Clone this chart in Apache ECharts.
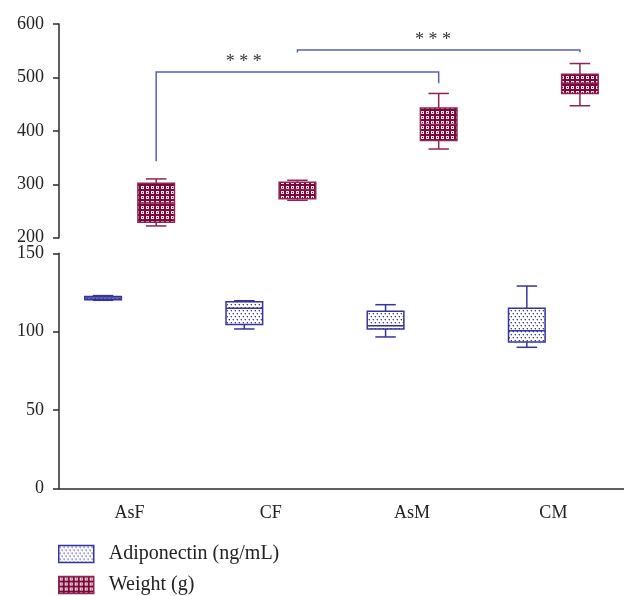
<!DOCTYPE html>
<html><head><meta charset="utf-8">
<script src="https://cdn.jsdelivr.net/npm/echarts@6/dist/echarts.min.js"></script>
<style>html,body{margin:0;padding:0;background:#fff}#c{width:624px;height:596px}</style>
</head><body><div id="c"></div>
<script>
// ---------- data ----------
const categories = ['AsF', 'CF', 'AsM', 'CM'];
const weightTicks = [200, 300, 400, 500, 600];
const adipTicks = [0, 50, 100, 150];
// box statistics per category: [min, Q1, median, Q3, max]
const weightMin = [222, 270, 366, 447];
const weightQ1 = [229, 273, 382, 470];
const weightMed = [265, 290, 412, 489];
const weightQ3 = [302, 304, 443, 506];
const weightMax = [310, 307.5, 470, 526];
const adipMin = [120, 101.7, 96.6, 90];
const adipQ1 = [120.3, 104.6, 101.7, 93.4];
const adipMed = [121.5, 115, 103.8, 100.6];
const adipQ3 = [122.5, 119.1, 113, 115];
const adipMax = [123, 119.7, 117.2, 129.1];
// significance brackets (weight)
const sigFrom = ['AsF', 'CF'];
const sigTo = ['AsM', 'CM'];
const sigFromY = [343, 546.6];
const sigTopY = [510, 551.5];
const sigToY = [489, 547];
const sigText = ['***', '***'];

// ---------- styling ----------
const FONT = '"Liberation Serif", "Times New Roman", serif';
const WCOL = '#7a0838', WLINE = '#8e2454';
const ACOL = '#34349c';
const BRACKET = '#5a5fb5';
const labelFrac = [0.31, 0.48];

function makePattern(kind) {
  const cv = document.createElement('canvas');
  const ctx = cv.getContext('2d');
  if (kind === 'weight') {
    cv.width = 5; cv.height = 5;
    ctx.fillStyle = WCOL; ctx.fillRect(0, 0, 5, 5);
    ctx.fillStyle = 'rgba(255,255,255,0.9)';
    ctx.fillRect(1, 1, 3, 1); ctx.fillRect(1, 3, 3, 1); ctx.fillRect(1, 2, 1, 1); ctx.fillRect(3, 2, 1, 1);
  } else {
    cv.width = 4; cv.height = 6;
    ctx.fillStyle = '#ffffff'; ctx.fillRect(0, 0, 4, 6);
    ctx.fillStyle = 'rgba(52,52,156,0.95)';
    ctx.fillRect(1, 1, 1, 1); ctx.fillRect(3, 4, 1, 1);
    ctx.fillStyle = 'rgba(52,52,156,0.35)';
    ctx.fillRect(0, 1, 1, 1); ctx.fillRect(2, 4, 1, 1);
    ctx.fillRect(1, 2, 1, 1); ctx.fillRect(3, 5, 1, 1);
  }
  return { image: cv, repeat: 'repeat' };
}
const wPat = makePattern('weight');
const aPat = makePattern('adip');

function boxRenderer(offFrac, lineColor, fill, lw) {
  return function (params, api) {
    const cat = api.value(0);
    const band = api.size([1, 0])[0];
    const base = api.coord([cat, api.value(1)]);
    const cx = base[0] + band * offFrac;
    const y = i => api.coord([cat, api.value(i)])[1];
    const yMin = y(1), yQ1 = y(2), yMed = y(3), yQ3 = y(4), yMax = y(5);
    const bw = band * 0.259, cw = band * 0.145;
    const ls = { stroke: lineColor, lineWidth: lw };
    return {
      type: 'group', children: [
        { type: 'line', shape: { x1: cx, y1: yMax, x2: cx, y2: yQ3 }, style: ls },
        { type: 'line', shape: { x1: cx, y1: yMin, x2: cx, y2: yQ1 }, style: ls },
        { type: 'line', shape: { x1: cx - cw / 2, y1: yMax, x2: cx + cw / 2, y2: yMax }, style: ls },
        { type: 'line', shape: { x1: cx - cw / 2, y1: yMin, x2: cx + cw / 2, y2: yMin }, style: ls },
        { type: 'rect', shape: { x: cx - bw / 2, y: yQ3, width: bw, height: Math.max(yQ1 - yQ3, 1) },
          style: { fill: fill, stroke: lineColor, lineWidth: lw } },
        { type: 'line', shape: { x1: cx - bw / 2, y1: yMed, x2: cx + bw / 2, y2: yMed }, style: ls }
      ]
    };
  };
}

const OFF = 0.188;
function bracketRenderer(params, api) {
  const band = api.size([1, 0])[0];
  const a = api.coord([api.value(0), api.value(2)]);
  const t = api.coord([api.value(0), api.value(3)]);
  const b = api.coord([api.value(1), api.value(4)]);
  const x1 = a[0] + band * OFF, x2 = b[0] + band * OFF;
  const ty = t[1];
  const lx = x1 + (x2 - x1) * labelFrac[params.dataIndex];
  return {
    type: 'group', children: [
      { type: 'polyline', shape: { points: [[x1, a[1]], [x1, ty], [x2, ty], [x2, b[1]]] },
        style: { stroke: BRACKET, lineWidth: 1.5, fill: null } },
      { type: 'text', x: lx, y: ty - 1,
        style: { text: sigText[params.dataIndex].split('').join(' '), font: '18px ' + FONT, fill: '#333',
                 align: 'center', verticalAlign: 'bottom' } }
    ]
  };
}

const weightData = categories.map((c, i) => [i, weightMin[i], weightQ1[i], weightMed[i], weightQ3[i], weightMax[i]]);
const adipData = categories.map((c, i) => [i, adipMin[i], adipQ1[i], adipMed[i], adipQ3[i], adipMax[i]]);
const sigData = sigFrom.map((f, i) => [categories.indexOf(f), categories.indexOf(sigTo[i]), sigFromY[i], sigTopY[i], sigToY[i]]);

const axisLineStyle = { color: '#2b2b2b', width: 1.5 };
const yLabel = { fontFamily: FONT, fontSize: 18, color: '#222', margin: 15 };

const chart = echarts.init(document.getElementById('c'), null, { renderer: 'canvas' });
chart.setOption({
  animation: false,
  backgroundColor: '#fff',
  grid: [
    { left: 59, top: 24, width: 567, height: 213.7 },
    { left: 59, top: 253.3, width: 567, height: 235 }
  ],
  xAxis: [
    { gridIndex: 0, type: 'category', data: categories, show: false },
    { gridIndex: 1, type: 'category', data: categories,
      axisLine: { lineStyle: axisLineStyle },
      axisTick: { alignWithLabel: true, length: 7, lineStyle: axisLineStyle },
      axisLabel: { fontFamily: FONT, fontSize: 18, color: '#222', margin: 16 } }
  ],
  yAxis: [
    { gridIndex: 0, type: 'value', min: weightTicks[0], max: weightTicks[weightTicks.length - 1], interval: 100,
      axisLine: { show: true, lineStyle: axisLineStyle },
      axisTick: { show: true, length: 6, lineStyle: axisLineStyle },
      splitLine: { show: false }, axisLabel: yLabel },
    { gridIndex: 1, type: 'value', min: adipTicks[0], max: adipTicks[adipTicks.length - 1], interval: 50,
      axisLine: { show: true, lineStyle: axisLineStyle },
      axisTick: { show: true, length: 6, lineStyle: axisLineStyle },
      splitLine: { show: false }, axisLabel: yLabel }
  ],
  legend: {
    orient: 'vertical', left: 58, top: 544, padding: 0,
    itemWidth: 35, itemHeight: 17, itemGap: 11, icon: 'rect',
    textStyle: { fontFamily: FONT, fontSize: 20, color: '#222', padding: [0, 0, 0, 10] },
    data: [
      { name: 'Adiponectin (ng/mL)', itemStyle: { color: aPat, borderColor: ACOL, borderWidth: 1.5 } },
      { name: 'Weight (g)', itemStyle: { color: wPat, borderColor: WLINE, borderWidth: 1.5 } }
    ]
  },
  series: [
    { name: 'Adiponectin (ng/mL)', type: 'custom', xAxisIndex: 1, yAxisIndex: 1,
      itemStyle: { color: aPat, borderColor: ACOL },
      encode: { x: 0, y: [1, 2, 3, 4, 5] },
      renderItem: boxRenderer(-OFF, ACOL, aPat, 1.5), data: adipData },
    { name: 'Weight (g)', type: 'custom', xAxisIndex: 0, yAxisIndex: 0,
      itemStyle: { color: wPat, borderColor: WLINE },
      encode: { x: 0, y: [1, 2, 3, 4, 5] },
      renderItem: boxRenderer(OFF, WLINE, wPat, 1.5), data: weightData },
    { type: 'custom', xAxisIndex: 0, yAxisIndex: 0, silent: true,
      encode: { x: [0, 1], y: [2, 3, 4] },
      renderItem: bracketRenderer, data: sigData }
  ]
});
</script></body></html>
